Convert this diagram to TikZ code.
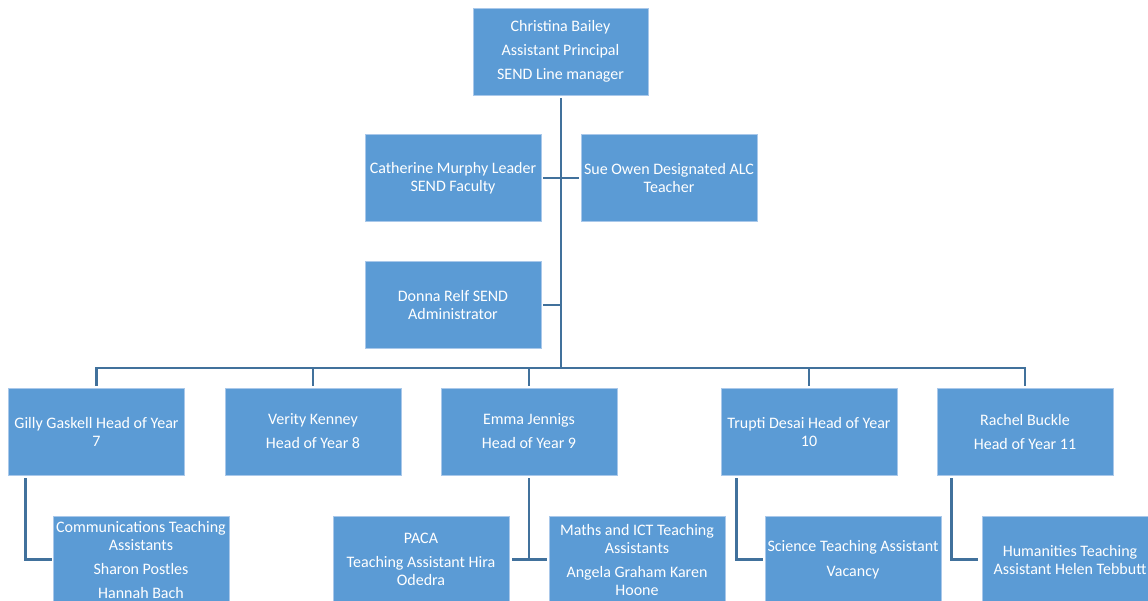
\documentclass[tikz,border=0pt]{standalone}
\usepackage{fontspec}
\setmainfont{Carlito}
\definecolor{boxblue}{HTML}{5B9BD5}
\definecolor{linkblue}{HTML}{41719C}
\definecolor{edgeblue}{HTML}{A9C8EA}
\begin{document}
\begin{tikzpicture}[x=1pt,y=-1pt,
  box/.style={rectangle, fill=boxblue, draw=edgeblue, line width=0.6pt,
    minimum width=176pt, minimum height=87pt, inner sep=0pt,
    text=white, align=center, font=\fontsize{16}{18}\selectfont},
  conn/.style={draw=linkblue, line width=2.8pt}]
\useasboundingbox (0,0) rectangle (1148,600);
\clip (0,0) rectangle (1148,600);

\node[box, minimum width=175pt] (top) at (560.5,51.5) {Christina Bailey\\[6pt]Assistant Principal\\[6pt]SEND Line manager};
\node[box] (cath) at (453,178) {Catherine Murphy Leader\\SEND Faculty};
\node[box] (sue) at (669,178) {Sue Owen Designated ALC\\Teacher};
\node[box] (donna) at (453,305) {Donna Relf SEND\\Administrator};

\node[box] (gilly) at (96.5,431.5) {Gilly Gaskell Head of Year\\7};
\node[box] (verity) at (313,431.5) {Verity Kenney\\[6pt]Head of Year 8};
\node[box] (emma) at (529,431.5) {Emma Jennigs\\[6pt]Head of Year 9};
\node[box] (trupti) at (809,431.5) {Trupti Desai Head of Year\\10};
\node[box] (rachel) at (1025,431.5) {Rachel Buckle\\[6pt]Head of Year 11};

\node[box] (comm) at (141,559.5) {Communications Teaching\\Assistants\\[6pt]Sharon Postles\\[6pt]Hannah Bach};
\node[box] (paca) at (421,559.5) {PACA\\[6pt]Teaching Assistant Hira\\Odedra};
\node[box] (maths) at (637,559.5) {Maths and ICT Teaching\\Assistants\\[6pt]Angela Graham Karen\\Hoone};
\node[box] (sci) at (853,559.5) {Science Teaching Assistant\\[7pt]Vacancy};
\node[box] (hum) at (1070,559.5) {Humanities Teaching\\Assistant Helen Tebbutt};

\coordinate (bus) at (561,368);
\coordinate (topbot) at (561,98);

% main trunk
\draw[conn] (topbot) -- (bus);
\draw[conn] ([xshift=2pt]cath.east) -- ([xshift=-2pt]sue.west);
\draw[conn] ([xshift=2pt]donna.east) -- (donna.east -| bus);

% bus to heads of year
\draw[conn] ([yshift=2pt]gilly.north) |- (bus);
\draw[conn] ([yshift=2pt]verity.north) |- (bus);
\draw[conn] ([yshift=2pt]emma.north) |- (bus);
\draw[conn] ([yshift=2pt]trupti.north) |- (bus);
\draw[conn] ([yshift=2pt]rachel.north) |- (bus);

% sub-boxes
\draw[conn] ([xshift=17pt,yshift=-3pt]gilly.south west) |- ([xshift=-1pt]comm.west);
\draw[conn] ([yshift=-3pt]emma.south) -- (emma.south |- maths.west);
\draw[conn] ([xshift=3pt]paca.east) -- ([xshift=-2pt]maths.west);
\draw[conn] ([xshift=16pt,yshift=-3pt]trupti.south west) |- ([xshift=-2pt]sci.west);
\draw[conn] ([xshift=15pt,yshift=-3pt]rachel.south west) |- ([xshift=-4pt]hum.west);
\end{tikzpicture}
\end{document}
